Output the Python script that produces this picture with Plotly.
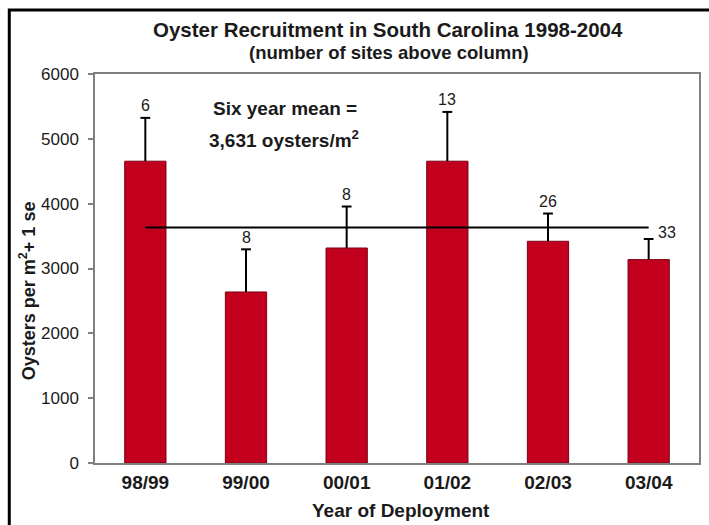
import plotly.graph_objects as go

years = ["98/99", "99/00", "00/01", "01/02", "02/03", "03/04"]
means = [4655, 2638, 3316, 4655, 3420, 3137]
se = [668, 658, 640, 760, 428, 318]
sites = ["6", "8", "8", "13", "26", "33"]
six_year_mean = 3631
y_ticks = [0, 1000, 2000, 3000, 4000, 5000, 6000]

FONT = "Liberation Sans, Arial, Helvetica, sans-serif"
RED = "#C2001E"
TXT = "#1a1a1a"

tops = [m + s for m, s in zip(means, se)]

fig = go.Figure()
fig.add_trace(go.Bar(
    x=years, y=means, width=0.41,
    marker=dict(color=RED, line=dict(color="#7a0014", width=1)),
    hoverinfo="skip",
))
# upper error bars (+1 se) with a cap only at the top
fig.add_trace(go.Scatter(
    x=years, y=tops, mode="markers",
    marker=dict(symbol="line-ew-open", size=7, color="black",
                line=dict(color="black", width=2)),
    error_y=dict(type="data", symmetric=False, array=[0] * len(se),
                 arrayminus=se, color="black", thickness=2, width=0),
    hoverinfo="skip",
))
fig.add_trace(go.Scatter(
    x=[years[0], years[-1]], y=[six_year_mean, six_year_mean],
    mode="lines", line=dict(color="black", width=2), hoverinfo="skip",
))

annotations = []
for i, (yr, t, n) in enumerate(zip(years, tops, sites)):
    last = i == len(years) - 1
    annotations.append(dict(
        x=yr, y=t, text=n, showarrow=False,
        xanchor="center", yanchor="middle",
        xshift=18 if last else 0, yshift=7 if last else 12,
        font=dict(family=FONT, size=16, color=TXT),
    ))


def ptext(px, py, text, size, angle=0):
    return dict(xref="paper", yref="paper", x=(px - 95) / 606,
                y=(463 - py) / 389, text=text, showarrow=False,
                xanchor="center", yanchor="middle", textangle=angle,
                font=dict(family=FONT, size=size, color=TXT))


annotations += [
    ptext(286, 108, "<b>Six year mean =</b>", 19),
    ptext(285, 139, "<b>3,631 oysters/m<sup>2</sup></b>", 19),
    ptext(389, 29, "<b>Oyster Recruitment in South Carolina 1998-2004</b>", 20.5),
    ptext(390, 52, "<b>(number of sites above column)</b>", 18.5),
    ptext(27, 291, "<b>Oysters per m<sup>2</sup>+ 1 se</b>", 18, -90),
    ptext(402, 511, "<b>Year of Deployment</b>", 19),
]

fig.update_layout(
    width=709, height=525,
    margin=dict(l=95, r=8, t=74, b=62),
    paper_bgcolor="white", plot_bgcolor="white",
    showlegend=False,
    annotations=annotations,
    shapes=[dict(type="rect", xref="paper", yref="paper",
                 x0=(9 - 95) / 606, x1=1.2, y0=-0.3, y1=(463 - 10) / 389,
                 line=dict(color="black", width=3), layer="above")],
    xaxis=dict(
        showline=True, linecolor="#808080", linewidth=1.5, mirror=True,
        ticks="", showgrid=False,
        tickfont=dict(family=FONT, size=19, color=TXT),
        tickprefix="<b>", ticksuffix="</b>",
        ticklabelstandoff=1,
    ),
    yaxis=dict(
        range=[0, 6000], tickvals=y_ticks,
        showline=True, linecolor="#808080", linewidth=1.5, mirror=True,
        ticks="outside", ticklen=5, tickcolor="#808080", tickwidth=1.5,
        showgrid=False, zeroline=False, ticklabelstandoff=6,
        tickfont=dict(family=FONT, size=17, color=TXT),
    ),
)

fig.write_html("out.html")
